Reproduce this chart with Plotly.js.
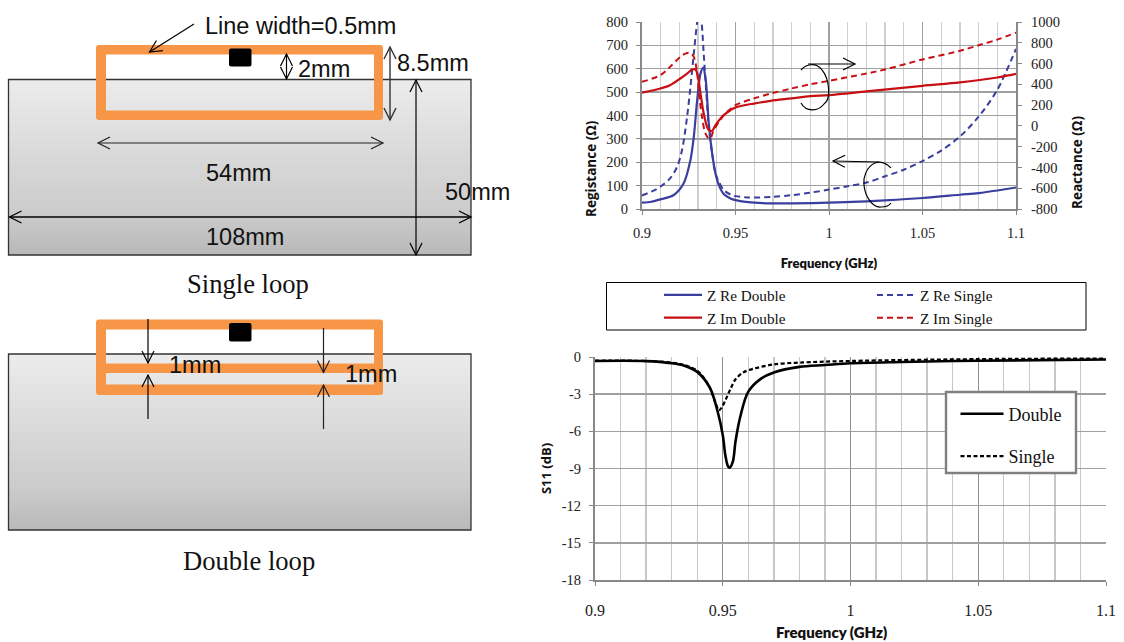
<!DOCTYPE html>
<html><head><meta charset="utf-8">
<script src="https://cdn.plot.ly/plotly-3.0.1.min.js"></script>
<style>html,body{margin:0;padding:0;background:#fff}#g{width:1124px;height:642px}</style>
</head><body><div id="g"></div>
<script>
// ---------- data ----------
const reDoubleF = [0.9,0.905,0.9098,0.917,0.9223,0.9259,0.9277,0.9295,0.9313,0.9327,0.9341,0.9357,0.9375,0.9393,0.9411,0.9437,0.9473,0.95,0.96,0.97,0.98,1.0,1.02,1.03,1.05,1.07,1.08,1.09,1.1];
const reDouble  = [27,31,41,60,110,209,309,465,580,605,550,366,238,152,102,64,45,38,27,24,24,27,33,37,47,61,68,79,92];
const reSingleF = [0.9,0.905,0.9098,0.915,0.9188,0.9214,0.9241,0.9259,0.9277,0.9295,0.9305,0.9318,0.933,0.9343,0.9357,0.9375,0.9393,0.9411,0.9437,0.9473,0.95,0.955,0.96,0.97,0.98,0.99,1.0,1.01,1.02,1.03,1.04,1.05,1.06,1.07,1.08,1.09,1.1];
const reSingle  = [58,74,95,131,181,252,394,522,665,800,850,800,665,508,352,238,152,117,81,62,55,50,49,52,59,70,83,97,113,140,168,205,250,310,395,510,685];
const imDoubleF = [0.9,0.9098,0.915,0.9205,0.9241,0.9268,0.9286,0.9298,0.9313,0.933,0.9348,0.9357,0.9375,0.9393,0.942,0.9437,0.9473,0.95,0.9598,0.9688,0.98,0.99,1.0,1.02,1.05,1.07,1.09,1.1];
const imDouble  = [320,360,391,456,503,542,542,488,311,119,-9,-41,-47,7,71,103,151,177,215,241,265,287,297,332,386,418,466,500];
const imSingleF = [0.9,0.9098,0.915,0.9205,0.9232,0.9259,0.9277,0.9295,0.9309,0.9321,0.9339,0.9357,0.9366,0.938,0.9411,0.9446,0.95,0.9598,0.9688,0.98,0.99,1.0,1.02,1.03,1.05,1.07,1.08,1.09,1.1];
const imSingle  = [424,488,568,664,696,702,664,504,247,87,-73,-121,-121,-57,39,119,199,263,311,360,400,434,504,543,639,722,776,830,898];
const s11DoubleF = [0.9,0.92,0.93,0.935,0.94,0.945,0.948,0.95,0.951,0.952,0.9527,0.954,0.955,0.957,0.96,0.965,0.97,0.98,0.99,1.0,1.02,1.05,1.1];
const s11Double  = [-0.32,-0.33,-0.5,-0.7,-1.2,-2.5,-4.4,-6.3,-7.9,-8.8,-8.93,-8.4,-6.8,-4.7,-2.8,-1.75,-1.25,-0.8,-0.65,-0.5,-0.4,-0.3,-0.2];
const s11SingleF = [0.9,0.92,0.93,0.935,0.94,0.943,0.945,0.947,0.9485,0.9495,0.951,0.953,0.955,0.958,0.962,0.97,0.98,1.0,1.05,1.1];
const s11Single  = [-0.3,-0.32,-0.45,-0.65,-1.1,-1.8,-2.5,-3.6,-4.3,-4.1,-3.5,-2.6,-1.8,-1.25,-0.95,-0.6,-0.45,-0.32,-0.17,-0.12];
const reactTicks = [-800,-600,-400,-200,0,200,400,600,800,1000];
const reactLabels = ['-800','-600','-400','-200','0','200','400','600','800','1000'];
const s11Ticks = [-18,-15,-12,-9,-6,-3,0];
const s11Labels = ['-18','-15','-12','-9','-6','-3','0'];

const W=1124,H=642;
const BLUE='#3a3f9f',RED='#c80f14',ORANGE='#f79646';
const SERIF='"Liberation Serif",serif',SANS='"Liberation Sans",Arial,sans-serif',LATO='Lato,sans-serif',OPEN='"Open Sans",sans-serif';
const fx=x=>x/W, fy=y=>1-y/H;
const P=(x,y)=>fx(x).toFixed(5)+','+fy(y).toFixed(5);

const shapes=[], annotations=[];
function addPath(d,o){shapes.push(Object.assign({type:'path',xref:'paper',yref:'paper',path:d,layer:'above',line:{color:'#000',width:1.2},fillcolor:'rgba(0,0,0,0)'},o||{}));}
function seg(x0,y0,x1,y1,c,w,layer){addPath('M'+P(x0,y0)+'L'+P(x1,y1),{line:{color:c||'#000',width:w||1.2},layer:layer||'above'});}
function head(x,y,dx,dy,c,w){
  const L=12,S=6,px=-dy,py=dx;
  addPath('M'+P(x-dx*L+px*S,y-dy*L+py*S)+'L'+P(x,y)+'L'+P(x-dx*L-px*S,y-dy*L-py*S),{line:{color:c||'#000',width:w||1.2}});
}
function arrow(x0,y0,x1,y1,both,c,w){
  seg(x0,y0,x1,y1,c,w);
  const l=Math.hypot(x1-x0,y1-y0),dx=(x1-x0)/l,dy=(y1-y0)/l;
  head(x1,y1,dx,dy,c,w); if(both) head(x0,y0,-dx,-dy,c,w);
}
function label(text,x,y,anchor,size,font,color,extra){
  annotations.push(Object.assign({text:text,xref:'paper',yref:'paper',x:fx(x),y:fy(y),xanchor:anchor,yanchor:'middle',showarrow:false,font:{family:font,size:size,color:color||'#111'}},extra||{}));
}
function substrate(y0,y1){
  const stops=[[0,236],[0.4,218],[0.75,204],[1,184]];
  const shade=t=>{for(let i=1;i<stops.length;i++){if(t<=stops[i][0]){const a=stops[i-1],b=stops[i];return a[1]+(b[1]-a[1])*(t-a[0])/(b[0]-a[0]);}}return 184;};
  for(let y=y0;y<y1;y+=2){
    const v=Math.round(shade((y-y0)/(y1-y0)));
    shapes.push({type:'rect',xref:'paper',yref:'paper',x0:fx(8.5),x1:fx(471),y0:fy(y),y1:fy(Math.min(y+2.4,y1)),layer:'below',line:{width:0},fillcolor:`rgb(${v},${v},${v})`});
  }
  shapes.push({type:'rect',xref:'paper',yref:'paper',x0:fx(8.5),x1:fx(471),y0:fy(y0),y1:fy(y1),layer:'below',line:{color:'#333',width:1.3},fillcolor:'rgba(0,0,0,0)'});
}
function rrect(x0,y0,x1,y1,r){
  return 'M'+P(x0+r,y0)+'L'+P(x1-r,y0)+'Q'+P(x1,y0)+' '+P(x1,y0+r)+'L'+P(x1,y1-r)+'Q'+P(x1,y1)+' '+P(x1-r,y1)+'L'+P(x0+r,y1)+'Q'+P(x0,y1)+' '+P(x0,y1-r)+'L'+P(x0,y0+r)+'Q'+P(x0,y0)+' '+P(x0+r,y0)+'Z';
}
function rect(x0,y0,x1,y1){return 'M'+P(x0,y0)+'L'+P(x1,y0)+'L'+P(x1,y1)+'L'+P(x0,y1)+'Z';}

// Single loop diagram
substrate(79.5,255);
addPath(rrect(96,45,383,120,3)+rect(106,54.5,374,110.5),{line:{width:0},fillcolor:ORANGE,layer:'above'});
addPath(rrect(229,48.5,251.5,66.5,2),{line:{width:0},fillcolor:'#000'});
arrow(194,24,149.5,52);
arrow(286.5,54,286.5,79,true);
arrow(390,47,390,120,true,'#333',1.4);
arrow(416,80,416,255,true);
arrow(98,143,383,143,true,'#222',1.2);
arrow(9.5,217,471,217,true,'#000',1.3);
const T=23.5;
label('Line width=0.5mm',202.5,26,'left',T,SANS);
label('2mm',296,69,'left',T,SANS);
label('8.5mm',394.5,63,'left',T,SANS);
label('54mm',238,173,'center',T,SANS);
label('50mm',443,192,'left',T,SANS);
label('108mm',245,237,'center',T,SANS);
label('Single loop',248,284,'center',26.6,SERIF);

// Double loop diagram
substrate(354,530);
addPath(rrect(96,319.5,383,395,3)+rect(106,329.5,374,363.5)+rect(106,373,374,384.5),{line:{width:0},fillcolor:ORANGE,layer:'above'});
addPath(rrect(229,323,251.5,341.5,2),{line:{width:0},fillcolor:'#000'});
arrow(148,319,148,363);
arrow(148,419,148,375);
arrow(323.5,328,323.5,372.5,false,'#222');
arrow(323.5,429,323.5,385,false,'#222');
label('1mm',167,365,'left',T,SANS);
label('1mm',343,374,'left',T,SANS);
label('Double loop',249,561,'center',26.6,SERIF);

// Rotating arrows on the impedance chart
addPath('M'+P(801,70)+'C'+P(806,64)+' '+P(816,62)+' '+P(822,70)+'C'+P(830,80)+' '+P(831,100)+' '+P(824,104)+'C'+P(818,112)+' '+P(806,112)+' '+P(801,103));
arrow(808,64,855,64);
addPath('M'+P(891,168)+'C'+P(887,163)+' '+P(880,161)+' '+P(875,163)+'C'+P(866,167)+' '+P(863,178)+' '+P(864,185)+'C'+P(865,197)+' '+P(873,208)+' '+P(881,207)+'C'+P(885,207)+' '+P(889,206)+' '+P(891,203));
arrow(879,162,833,161);

// Axis titles placed off-centre, as in the reference
const titleYF={family:OPEN,size:13.5,color:'#111',weight:700};
annotations.push({text:'Registance (Ω)',xref:'paper',yref:'paper',x:fx(591),y:fy(168),xanchor:'center',yanchor:'middle',textangle:-90,showarrow:false,font:titleYF});
annotations.push({text:'Reactance (Ω)',xref:'paper',yref:'paper',x:fx(1077),y:fy(163),xanchor:'center',yanchor:'middle',textangle:-90,showarrow:false,font:titleYF});
annotations.push({text:'Frequency (GHz)',xref:'paper',yref:'paper',x:fx(832),y:fy(632),xanchor:'center',yanchor:'middle',showarrow:false,font:{family:LATO,size:15,color:'#111',weight:800}});

// Legend boxes
shapes.push({type:'rect',xref:'paper',yref:'paper',x0:fx(606.5),x1:fx(1086),y0:fy(282.5),y1:fy(330),layer:'above',line:{color:'#000',width:1},fillcolor:'#fff'});
shapes.push({type:'rect',xref:'paper',yref:'paper',x0:fx(946),x1:fx(1076),y0:fy(392),y1:fy(473),layer:'above',line:{color:'#808080',width:2.4},fillcolor:'#fff'});

const line=(x,y,name,color,width,dash,xa,ya,extra)=>Object.assign({type:'scatter',mode:'lines',x:x,y:y,name:name,xaxis:xa,yaxis:ya,hoverinfo:'skip',
  line:{color:color,width:width,dash:dash,shape:'spline',smoothing:0.9}},extra||{});
const D='6px,4px';
const traces=[
  line(reDoubleF,reDouble,'Z Re Double',BLUE,2.2,'solid','x','y',{legend:'legend'}),
  line(reSingleF,reSingle,'Z Re Single',BLUE,2,D,'x','y',{legend:'legend3'}),
  line(imDoubleF,imDouble,'Z Im Double',RED,2.2,'solid','x','y2',{legend:'legend'}),
  line(imSingleF,imSingle,'Z Im Single',RED,2,D,'x','y2',{legend:'legend3'}),
  line(s11DoubleF,s11Double,'Double','#000',2.6,'solid','x2','y3',{legend:'legend2',legendgroup:'a'}),
  line(s11SingleF,s11Single,'Single','#000',2.2,'4px,2.5px','x2','y3',{legend:'legend2',legendgroup:'b'})
];
const tickF={family:SERIF,size:14.5,color:'#222'};
const titleX={family:LATO,size:13,color:'#111',weight:800};
const zLegend=xp=>({orientation:'v',x:fx(xp),y:fy(278.5),xanchor:'left',yanchor:'top',itemwidth:38,bgcolor:'rgba(0,0,0,0)',borderwidth:0,font:{family:SERIF,size:15.2,color:'#111'}});
const layout={
  width:W,height:H,margin:{l:0,r:0,t:0,b:0,autoexpand:false},paper_bgcolor:'#fff',plot_bgcolor:'rgba(0,0,0,0)',showlegend:true,
  xaxis:{domain:[fx(642),fx(1016)],range:[0.9,1.1],tick0:0.9,dtick:0.05,anchor:'y',showgrid:true,gridcolor:'#a0a0a0',gridwidth:1.4,
    minor:{dtick:0.01,showgrid:true,gridcolor:'#cfcfcf',gridwidth:1.4,ticks:''},
    showline:true,linecolor:'#888',linewidth:2,ticks:'outside',ticklen:4,tickcolor:'#888',tickfont:tickF,ticklabelstandoff:6,zeroline:false,
    title:{text:'Frequency (GHz)',font:titleX,standoff:18}},
  yaxis:{domain:[fy(209),fy(22)],range:[0,800],dtick:100,anchor:'x',showgrid:true,gridcolor:'#a0a0a0',gridwidth:1.4,
    showline:true,linecolor:'#888',linewidth:2,ticks:'outside',ticklen:4,tickcolor:'#888',tickfont:tickF,ticklabelstandoff:5,zeroline:false},
  yaxis2:{domain:[fy(209),fy(22)],range:[-800,1000],tickmode:'array',tickvals:reactTicks,ticktext:reactLabels,overlaying:'y',side:'right',anchor:'x',showgrid:false,
    showline:true,linecolor:'#888',linewidth:2,ticks:'outside',ticklen:4,tickcolor:'#888',tickfont:tickF,ticklabelstandoff:6,zeroline:false},
  xaxis2:{domain:[fx(595),fx(1106)],range:[0.9,1.1],tick0:0.9,dtick:0.05,anchor:'y3',showgrid:true,gridcolor:'#909090',gridwidth:1.2,
    minor:{dtick:0.01,showgrid:true,gridcolor:'#c8c8c8',gridwidth:1.4,ticks:''},
    showline:true,linecolor:'#888',linewidth:2,ticks:'outside',ticklen:4,tickcolor:'#888',tickfont:{family:SERIF,size:16,color:'#222'},ticklabelstandoff:11,zeroline:false},
  yaxis3:{domain:[fy(580),fy(357)],range:[-18,0],tickmode:'array',tickvals:s11Ticks,ticktext:s11Labels,anchor:'x2',showgrid:true,gridcolor:'#a0a0a0',gridwidth:1.4,
    showline:true,linecolor:'#888',linewidth:2,ticks:'outside',ticklen:4,tickcolor:'#888',tickfont:tickF,ticklabelstandoff:5,zeroline:false,
    title:{text:'S11 (dB)',font:{family:OPEN,size:13,color:'#111',weight:700},standoff:7}},
  legend:zLegend(659),
  legend3:zLegend(872),
  legend2:{orientation:'v',x:fx(955.5),y:fy(395.5),xanchor:'left',yanchor:'top',itemwidth:43,traceorder:'grouped',tracegroupgap:16,bgcolor:'rgba(0,0,0,0)',borderwidth:0,font:{family:SERIF,size:18,color:'#111'}},
  shapes:shapes,annotations:annotations
};
Plotly.newPlot('g',traces,layout,{staticPlot:true,displayModeBar:false});
</script></body></html>
